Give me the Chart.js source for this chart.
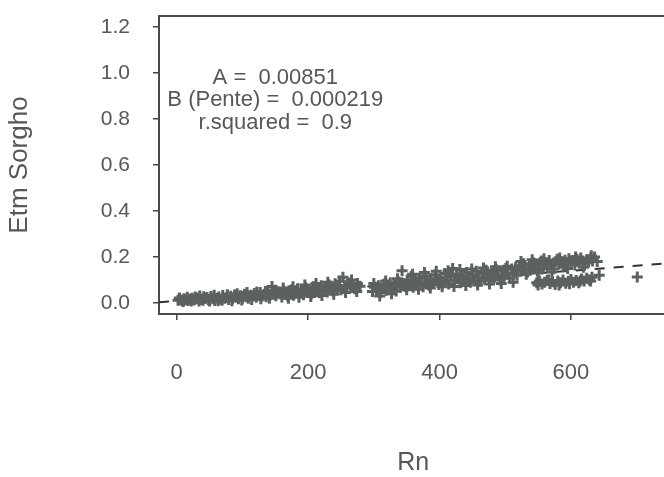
<!DOCTYPE html>
<html>
<head>
<meta charset="utf-8">
<script src="https://cdn.jsdelivr.net/npm/chart.js@4"></script>
<style>
  html, body { margin: 0; padding: 0; background: #fff; overflow: hidden; }
  #wrap { width: 664px; height: 477px; overflow: hidden; }
</style>
</head>
<body>
<div id="wrap"><canvas id="c" width="676" height="477"></canvas></div>
<script>
// Rn (x) and Etm Sorgho (y)
const rnValues = [
  2, 5, 8, 11, 13, 17, 20, 23, 26, 29, 31, 35, 37, 40, 43, 46, 48, 52, 55, 58,
  61, 64, 67, 70, 73, 76, 79, 82, 85, 88, 91, 94, 97, 100, 103, 106, 109, 112, 115, 118,
  121, 124, 127, 130, 133, 136, 139, 142, 145, 148, 151, 154,
  4, 10, 16, 22, 28, 34, 41, 50, 57, 63, 69, 77, 84, 92, 99, 107, 114, 122, 128, 135, 141, 150,
  157, 160, 163, 166, 169, 172, 175, 178, 181, 184, 187, 190, 193, 196, 199, 202, 205, 208,
  211, 214, 217, 220, 223, 226, 229, 232, 235, 238, 241, 244, 247, 250, 253, 256, 259, 262,
  265, 268, 271, 275, 279,
  162, 170, 177, 186, 195, 204, 212, 221, 230, 239, 248, 257, 266, 274,
  298, 301, 304, 307, 310, 313, 316, 319, 322, 325, 328, 331, 334, 337, 340,
  300, 309, 318, 327, 336,
  343, 345, 348, 351, 354, 357, 360, 363, 366, 369, 372, 375, 378, 381, 384, 387, 390, 393,
  396, 399, 402, 405, 408, 411, 414, 417, 420, 423, 426, 429, 432, 435, 438, 441, 444, 447,
  450, 453, 456, 459, 462, 465, 468, 471, 474, 477, 480, 483, 486, 489, 492, 495, 498, 501,
  504, 507, 510, 513,
  350, 359, 368, 377, 386, 395, 404, 413, 422, 431, 440, 449, 458, 467, 476, 485, 494, 503, 512,
  516, 519, 522, 525, 528, 531, 534, 537, 540, 543, 546, 549, 552, 555, 558, 561, 564, 567,
  570, 573, 576, 579, 582, 585, 588, 591, 594, 597, 600, 603, 606, 609, 612, 615, 618, 621,
  624, 627, 630, 633, 636, 640, 643,
  518, 524, 532, 541, 550, 559, 571, 583, 595, 607, 619, 631,
  548, 552, 556, 560, 564, 568, 572, 576, 580, 584, 588, 592, 596, 600, 604, 608, 612, 616,
  620, 624, 628, 632,
  550, 566, 582, 598, 614, 630,
  701
];
const etmValues = [
  0.012, 0.015, 0.010, 0.018, 0.014, 0.011, 0.016, 0.020, 0.013, 0.017, 0.022, 0.030, 0.015, 0.012, 0.019, 0.024, 0.014, 0.028, 0.018, 0.011,
  0.021, 0.026, 0.016, 0.033, 0.020, 0.024, 0.015, 0.029, 0.019, 0.035, 0.025, 0.018, 0.031, 0.022, 0.038, 0.027, 0.020, 0.034, 0.029, 0.041,
  0.025, 0.033, 0.046, 0.030, 0.037, 0.027, 0.044, 0.035, 0.072, 0.040, 0.031, 0.048,
  0.022, 0.006, 0.025, 0.008, 0.026, 0.009, 0.027, 0.008, 0.034, 0.010, 0.012, 0.036, 0.010, 0.040, 0.013, 0.045, 0.015, 0.048, 0.018, 0.050, 0.020, 0.055,
  0.040, 0.026, 0.052, 0.037, 0.030, 0.045, 0.058, 0.034, 0.048, 0.062, 0.041, 0.053, 0.036, 0.067, 0.047, 0.057, 0.040, 0.071,
  0.050, 0.062, 0.044, 0.075, 0.055, 0.066, 0.048, 0.078, 0.060, 0.052, 0.084, 0.064, 0.070, 0.058, 0.112, 0.075, 0.066, 0.087,
  0.071, 0.080, 0.062, 0.085, 0.073,
  0.065, 0.020, 0.070, 0.025, 0.078, 0.028, 0.085, 0.032, 0.090, 0.038, 0.095, 0.045, 0.100, 0.050,
  0.050, 0.068, 0.058, 0.075, 0.045, 0.063, 0.082, 0.055, 0.070, 0.088, 0.060, 0.077, 0.052, 0.093, 0.068,
  0.085, 0.030, 0.095, 0.040, 0.105,
  0.140, 0.085, 0.072, 0.100, 0.080, 0.115, 0.068, 0.095, 0.078, 0.108, 0.088, 0.070, 0.118, 0.092, 0.077, 0.105, 0.085, 0.122,
  0.096, 0.080, 0.110, 0.090, 0.128, 0.100, 0.083, 0.115, 0.150, 0.095, 0.125, 0.105, 0.088, 0.118, 0.098, 0.132, 0.108, 0.090,
  0.122, 0.100, 0.138, 0.112, 0.094, 0.128, 0.105, 0.142, 0.118, 0.098, 0.132, 0.110, 0.145, 0.122, 0.100, 0.138, 0.115, 0.150,
  0.126, 0.108, 0.148, 0.130,
  0.058, 0.125, 0.060, 0.132, 0.065, 0.138, 0.070, 0.140, 0.072, 0.145, 0.076, 0.148, 0.078, 0.152, 0.082, 0.158, 0.085, 0.160, 0.090,
  0.155, 0.138, 0.162, 0.145, 0.170, 0.150, 0.135, 0.165, 0.148, 0.175, 0.158, 0.140, 0.168, 0.182, 0.150, 0.172, 0.160, 0.185,
  0.165, 0.148, 0.178, 0.190, 0.168, 0.180, 0.158, 0.186, 0.172, 0.192, 0.176, 0.185, 0.165, 0.190, 0.178, 0.196, 0.182, 0.170,
  0.188, 0.178, 0.195, 0.183, 0.200, 0.180, 0.120,
  0.120, 0.180, 0.125, 0.188, 0.130, 0.192, 0.135, 0.196, 0.150, 0.200, 0.155, 0.205,
  0.088, 0.095, 0.082, 0.090, 0.098, 0.085, 0.092, 0.080, 0.096, 0.088, 0.100, 0.086, 0.094, 0.102, 0.090, 0.098, 0.088, 0.104,
  0.095, 0.108, 0.100, 0.112,
  0.078, 0.100, 0.078, 0.084, 0.096, 0.095,
  0.113
];

// regression shown on the plot
const coefA = 0.00851;
const coefB = 0.000219;
const rSquared = 0.9;
const fitRange = [-27, 747];

const xTicks = [0, 200, 400, 600];
const yTicks = [0, 0.2, 0.4, 0.6, 0.8, 1.0, 1.2];

const annotationLines = [
  'A =  ' + coefA,
  'B (Pente) =  ' + coefB,
  'r.squared =  ' + rSquared
];

const points = rnValues.map((x, i) => ({ x, y: etmValues[i] }));
const fitLine = fitRange.map(x => ({ x, y: coefA + coefB * x }));

const ink = '#555858';
const face = '"Liberation Sans", Arial, sans-serif';

const frameAndText = {
  id: 'frameAndText',
  beforeDatasetsDraw(chart) {
    const { ctx, chartArea: a } = chart;
    ctx.save();
    ctx.strokeStyle = '#4a4a4a';
    ctx.lineWidth = 2;
    ctx.strokeRect(a.left, a.top, a.right - a.left, a.bottom - a.top);
    ctx.restore();
  },
  afterDatasetsDraw(chart) {
    const { ctx, scales } = chart;
    const cx = scales.x.getPixelForValue(150);
    const cy = scales.y.getPixelForValue(0.98);
    ctx.save();
    ctx.fillStyle = ink;
    ctx.font = '22px ' + face;
    ctx.textAlign = 'center';
    ctx.textBaseline = 'middle';
    annotationLines.forEach((t, i) => ctx.fillText(t, cx, cy + i * 22.5));
    ctx.restore();
  }
};

new Chart(document.getElementById('c'), {
  type: 'scatter',
  data: {
    datasets: [
      {
        data: points,
        pointStyle: 'cross',
        pointRadius: 5.5,
        borderWidth: 3,
        borderColor: '#5c6060',
        backgroundColor: '#5c6060'
      },
      {
        type: 'line',
        data: fitLine,
        borderColor: '#333',
        borderWidth: 2,
        borderDash: [10, 9],
        pointRadius: 0,
        fill: false
      }
    ]
  },
  options: {
    responsive: false,
    animation: false,
    layout: { padding: { top: 16, right: 5, left: 0, bottom: 0 } },
    plugins: { legend: { display: false }, tooltip: { enabled: false } },
    scales: {
      x: {
        type: 'linear',
        min: fitRange[0],
        max: fitRange[1],
        afterBuildTicks: s => { s.ticks = xTicks.map(v => ({ value: v })); },
        afterFit: s => { s.height = 163; s.paddingLeft = 0; s.paddingRight = 0; },
        border: { display: false },
        grid: { drawOnChartArea: false, drawTicks: true, tickLength: 6, color: '#444', lineWidth: 1.5 },
        ticks: {
          color: ink,
          padding: 40,
          font: { family: face, size: 22 },
          callback: v => String(v)
        },
        title: {
          display: true,
          text: 'Rn',
          color: ink,
          padding: { top: 0, bottom: 0 },
          font: { family: face, size: 25, lineHeight: 1.1 }
        }
      },
      y: {
        type: 'linear',
        min: -0.048,
        max: 1.248,
        afterBuildTicks: s => { s.ticks = yTicks.map(v => ({ value: v })); },
        afterFit: s => { s.width = 159; s.paddingTop = 0; s.paddingBottom = 0; },
        border: { display: false },
        grid: { drawOnChartArea: false, drawTicks: true, tickLength: 6, color: '#444', lineWidth: 1.5 },
        ticks: {
          color: ink,
          padding: 23,
          font: { family: face, size: 21 },
          callback: v => v.toFixed(1)
        },
        title: {
          display: true,
          text: 'Etm Sorgho',
          color: ink,
          padding: { top: 4, bottom: 0 },
          font: { family: face, size: 26 }
        }
      }
    }
  },
  plugins: [frameAndText]
});
</script>
</body>
</html>
